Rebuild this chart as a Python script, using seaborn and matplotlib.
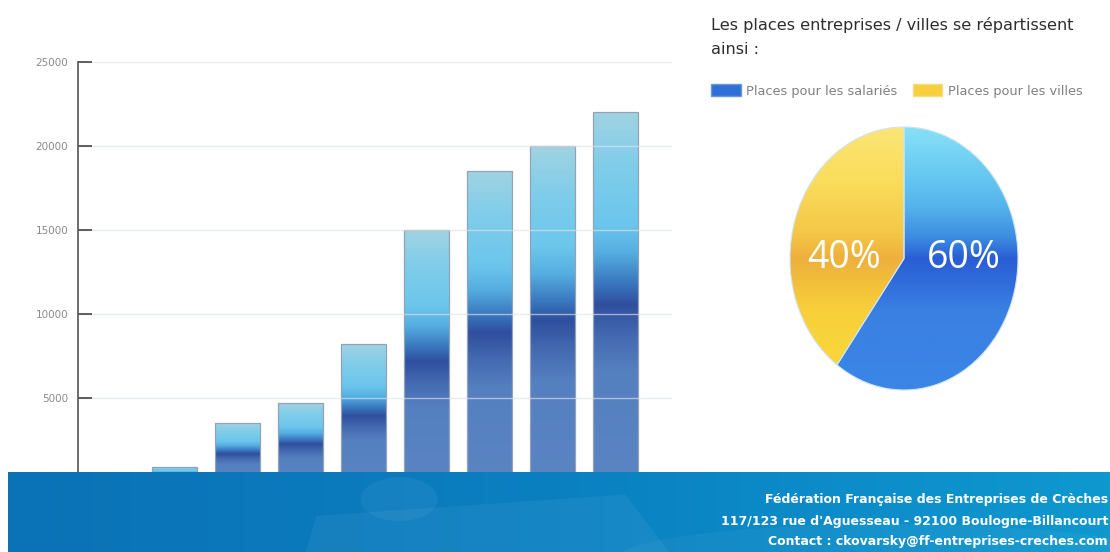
import numpy as np
import pandas as pd
import matplotlib
matplotlib.use("Agg")
import matplotlib.pyplot as plt
import seaborn as sns
from matplotlib.colors import LinearSegmentedColormap
from matplotlib.patches import Patch, Ellipse, Polygon

# ---------------- data ----------------
periods = ["2003", "2004", "2005", "2006", "2007", "2008", "2009", "2010"]
places = [900, 3500, 4700, 8200, 15000, 18500, 20000, 22000]
y_ticks = [5000, 10000, 15000, 20000, 25000]

pie_labels = ["Places pour les salariés", "Places pour les villes"]
pie_values = [60, 40]

title_lines = ["Les places entreprises / villes se répartissent", "ainsi :"]
footer_lines = [
    "Fédération Française des Entreprises de Crèches",
    "117/123 rue d'Aguesseau - 92100 Boulogne-Billancourt",
    "Contact : ckovarsky@ff-entreprises-creches.com",
]

# ---------------- style ----------------
sns.set_theme(style="white")
plt.rcParams["font.family"] = ["DejaVu Sans"]

W, H = 1110, 552
fig = plt.figure(figsize=(W / 100, H / 100), dpi=100)
fig.patch.set_facecolor("white")

def fx(px):
    return px / W

def fy(py):
    return 1 - py / H

# ---------------- bar chart ----------------
ax = fig.add_axes([fx(78), fy(482), fx(672) - fx(78), fy(62) - fy(482)])
df = pd.DataFrame({"period": periods, "places": places})
sns.barplot(data=df, x="period", y="places", ax=ax, width=0.715,
            color="#5580c0", edgecolor="#93a3b5", linewidth=0.9, zorder=2)

bar_cmap = LinearSegmentedColormap.from_list("bars", [
    (0.00, "#5a84c2"), (0.30, "#5580c0"), (0.40, "#4368b0"),
    (0.48, "#2f4f9e"), (0.54, "#3a78bf"), (0.62, "#55aee0"),
    (0.70, "#6cc6ec"), (0.86, "#80cdea"), (1.00, "#a0d3e2")])
grad = np.linspace(0, 1, 256).reshape(-1, 1)
for p in ax.patches:
    x0, y0 = p.get_x(), p.get_y()
    w, h = p.get_width(), p.get_height()
    im = ax.imshow(grad, cmap=bar_cmap, extent=[x0, x0 + w, y0, y0 + h],
                   origin="lower", aspect="auto", zorder=2.1,
                   interpolation="bilinear")
    im.set_clip_path(p)
    p.set_facecolor("none")
    p.set_zorder(2.2)

ax.set_xlim(-1.54, 7.90)
ax.set_ylim(0, 25000)
ax.set_yticks(y_ticks)
ax.set_yticklabels([str(v) for v in y_ticks])
ax.set_xlabel("")
ax.set_ylabel("")
ax.set_axisbelow(False)
ax.yaxis.grid(True, color="#dde2e8", linewidth=1.0, alpha=0.65)
ax.xaxis.grid(False)
ax.tick_params(axis="x", bottom=False, labelbottom=False)
ax.tick_params(axis="y", left=True, direction="in", length=10, width=1.2,
               color="#444444", labelcolor="#8a8a8a", labelsize=7.5, pad=7)
for s in ["top", "right", "bottom"]:
    ax.spines[s].set_visible(False)
ax.spines["left"].set_color("#555555")
ax.spines["left"].set_linewidth(1.2)
ax.patch.set_alpha(0)

# ---------------- pie ----------------
cx, cy, rx, ry = 904, 258.5, 114, 131.5
k = 1.02
axp = fig.add_axes([fx(cx - rx * k), fy(cy + ry * k), 2 * rx * k / W, 2 * ry * k / H])
wedges, texts, autotexts = axp.pie(
    pie_values, startangle=90, counterclock=False,
    colors=["#3a82e0", "#f6cf3f"], autopct="%.0f%%", pctdistance=0.55,
    radius=1, wedgeprops=dict(edgecolor="#cfe3f2", linewidth=0.8),
    textprops=dict(color="white", fontsize=27, family=["Open Sans", "DejaVu Sans"]))
axp.set_aspect("auto")
axp.axis("off")

pie_cmaps = [
    LinearSegmentedColormap.from_list("blue", [
        (0.00, "#3a86e6"), (0.30, "#3a80e2"), (0.45, "#2d66d8"),
        (0.50, "#2a5dd4"), (0.58, "#3c8ce0"), (0.70, "#55b4ec"),
        (0.85, "#6ccdf2"), (1.00, "#88e0f6")]),
    LinearSegmentedColormap.from_list("yellow", [
        (0.00, "#fbd93c"), (0.30, "#f8d03a"), (0.45, "#f0b83c"),
        (0.50, "#eeb03c"), (0.60, "#f4c848"), (0.80, "#fadd5c"),
        (1.00, "#fbe574")]),
]
for wdg, cm in zip(wedges, pie_cmaps):
    im = axp.imshow(grad, cmap=cm, extent=[-1, 1, -1, 1], origin="lower",
                    aspect="auto", zorder=1.1, interpolation="bilinear")
    im.set_clip_path(wdg)
    wdg.set_facecolor("none")
    wdg.set_zorder(1.2)
axp.set_xlim(-k, k)
axp.set_ylim(-k, k)
for t in autotexts:
    x, _ = t.get_position()
    t.set_position((x, 0.0))
    t.set_zorder(3)
    t.set_va("center")

# ---------------- title & legend ----------------
fig.text(fx(711), fy(30), title_lines[0], fontsize=11.6, color="#2e2e2e", va="baseline")
fig.text(fx(711), fy(54), title_lines[1], fontsize=11.6, color="#2e2e2e", va="baseline")

handles = [Patch(facecolor="#2f6fd6", edgecolor="#6a9ad6"),
           Patch(facecolor="#f7cf3c", edgecolor="#f3dc86")]
fig.legend(handles=handles, labels=pie_labels, ncol=2, loc="center left",
           bbox_to_anchor=(fx(711), fy(91)), frameon=False, fontsize=9.3,
           labelcolor="#808080", handlelength=2.3, handleheight=1.0,
           handletextpad=0.4, columnspacing=1.2, borderpad=0,
           borderaxespad=0)

# ---------------- footer ----------------
axf = fig.add_axes([fx(8), 0, 1 - fx(8), fy(472)])
foot_cmap = LinearSegmentedColormap.from_list("foot", [
    (0.0, "#0b72b6"), (0.5, "#0a80c1"), (1.0, "#0f98d0")])
axf.imshow(np.linspace(0, 1, 256).reshape(1, -1), cmap=foot_cmap,
           extent=[0, 1, 0, 1], aspect="auto", interpolation="bilinear")
# faint puzzle-piece texture
axf.add_patch(Polygon([[0.27, 0.0], [0.28, 0.45], [0.56, 0.72], [0.60, 0.0]],
                      closed=True, facecolor="white", alpha=0.05, edgecolor="none"))
axf.add_patch(Ellipse((0.355, 0.66), 0.07, 0.55, facecolor="white", alpha=0.05,
                      edgecolor="none"))
axf.add_patch(Ellipse((0.80, -0.1), 0.5, 0.9, facecolor="white", alpha=0.04,
                      edgecolor="none"))
axf.set_xlim(0, 1)
axf.set_ylim(0, 1)
axf.axis("off")

for line, py in zip(footer_lines, [500, 521, 541]):
    fig.text(fx(1108), fy(py), line, ha="right", va="center", color="white",
             fontweight="bold", fontsize=9.0)

fig.savefig("out.png", dpi=100, facecolor="white")
